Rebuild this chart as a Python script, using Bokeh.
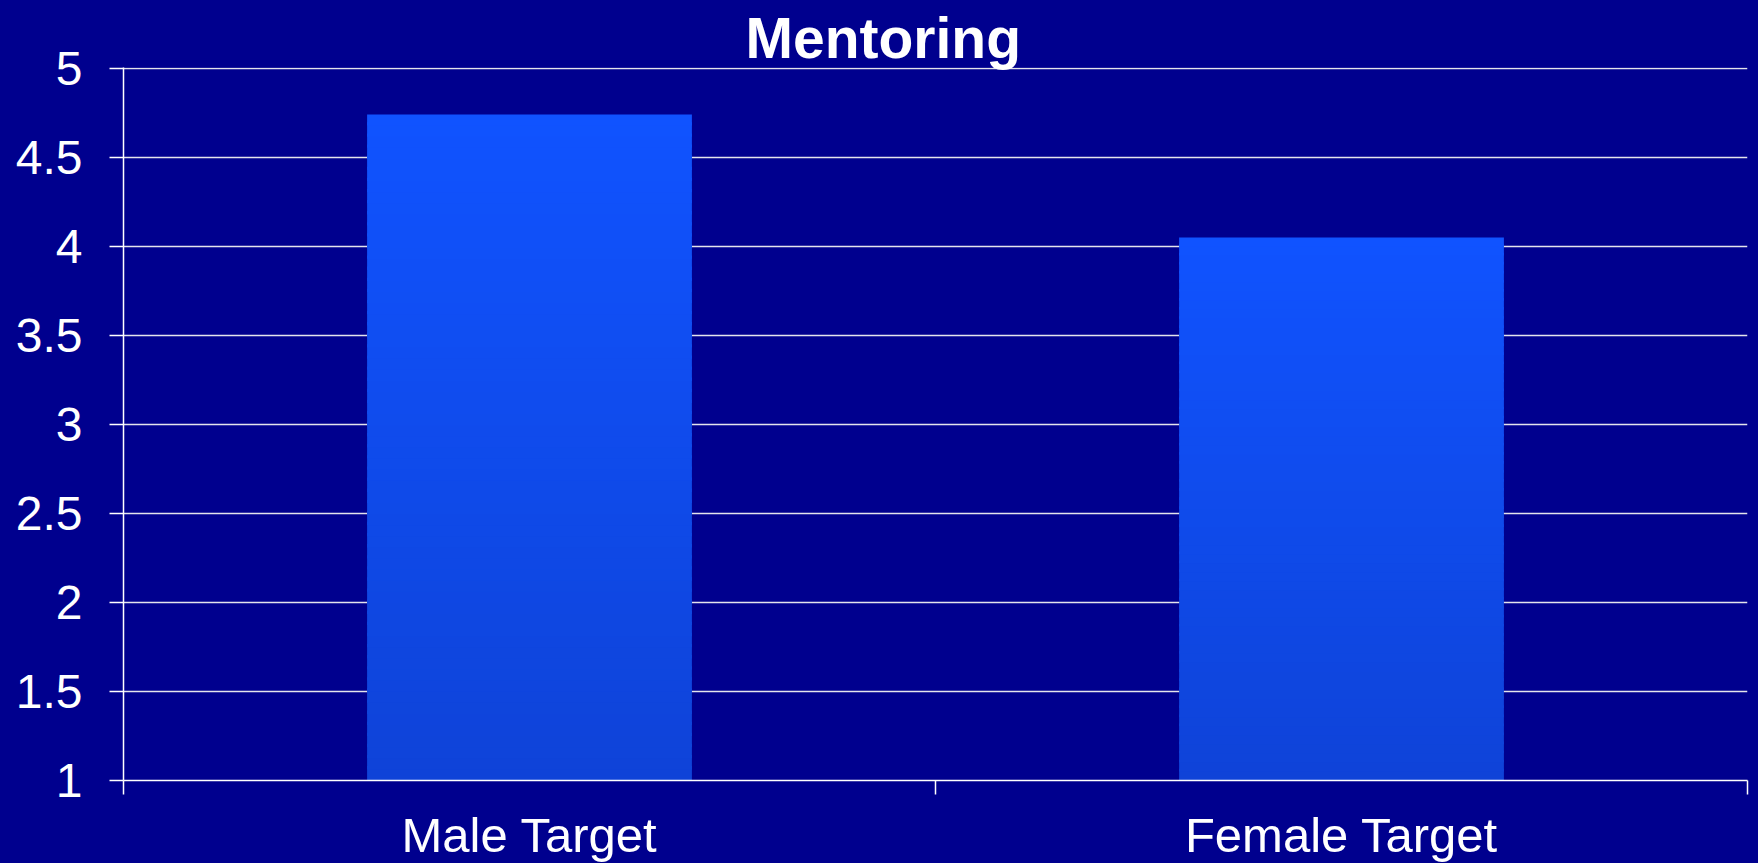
from bokeh.plotting import figure
from bokeh.models import FixedTicker, Range1d, ColumnDataSource
from bokeh.embed import file_html
from bokeh.resources import INLINE

# ---- data ----
categories = ["Male Target", "Female Target"]
values = [4.74, 4.05]
y_ticks = [1, 1.5, 2, 2.5, 3, 3.5, 4, 4.5, 5]
title_text = "Mentoring"

BG = "#00008E"
TOP = (0x10, 0x53, 0xFF)
BOT = (0x0F, 0x43, 0xD8)
FONT = "Liberation Sans"

p = figure(frame_width=1624, frame_height=713,
           x_range=Range1d(0, len(categories)), y_range=Range1d(1, 5.004),
           output_backend="svg", toolbar_location=None,
           background_fill_color=BG, border_fill_color=BG,
           outline_line_color=None,
           min_border_left=123, min_border_right=11,
           min_border_top=67, min_border_bottom=83)

p.title.text = title_text
p.title.align = "left"
p.title.offset = 622
p.title.text_color = "white"
p.title.text_font = FONT
p.title.text_font_size = "57px"
p.title.text_font_style = "bold"
p.title.standoff = -4

# gradient bars (strips computed from each bar's value)
N = 60
xs, bottoms, tops, colors = [], [], [], []
for i, v in enumerate(values):
    base = 1.0
    for k in range(N):
        b = base + (v - base) * k / N
        t = base + (v - base) * (k + 1) / N
        f = (k + 0.5) / N
        c = tuple(int(round(BOT[j] + (TOP[j] - BOT[j]) * f)) for j in range(3))
        xs.append(i + 0.5)
        bottoms.append(b)
        tops.append(t + (v - base) / N * 0.3 if k < N - 1 else t)
        colors.append("#%02X%02X%02X" % c)
src = ColumnDataSource(dict(x=xs, bottom=bottoms, top=tops, color=colors))
p.vbar(x="x", bottom="bottom", top="top", width=0.4, fill_color="color",
       line_color=None, source=src)

# y axis
ya = p.yaxis[0]
ya.ticker = FixedTicker(ticks=y_ticks)
ya.major_label_overrides = {t: ("%g" % t) for t in y_ticks}
ya.axis_line_color = "white"
ya.axis_line_width = 1.5
ya.major_tick_line_color = "white"
ya.major_tick_line_width = 1.5
ya.major_tick_out = 14
ya.major_tick_in = 0
ya.minor_tick_line_color = None
ya.major_label_text_color = "white"
ya.major_label_text_font = FONT
ya.major_label_text_font_size = "48px"
ya.major_label_standoff = 27

# x axis: labels at centers, ticks at category boundaries (minor ticks)
xa = p.xaxis[0]
centers = [i + 0.5 for i in range(len(categories))]
bounds = [float(i) for i in range(len(categories) + 1)]
xa.ticker = FixedTicker(ticks=centers, minor_ticks=bounds)
xa.major_label_overrides = {c: n for c, n in zip(centers, categories)}
xa.axis_line_color = "white"
xa.axis_line_width = 1.5
xa.major_tick_line_color = None
xa.major_tick_out = 0
xa.major_tick_in = 0
xa.minor_tick_line_color = "white"
xa.minor_tick_line_width = 1.5
xa.minor_tick_out = 14
xa.minor_tick_in = 0
xa.major_label_text_color = "white"
xa.major_label_text_font = FONT
xa.major_label_text_font_size = "49px"
xa.major_label_standoff = 13

p.xgrid.grid_line_color = None
p.ygrid.ticker = FixedTicker(ticks=y_ticks)
p.ygrid.grid_line_color = "#E4E4EC"
p.ygrid.grid_line_width = 1.5

html = file_html(p, INLINE)
html = html.replace("<head>", "<head><style>body{background:%s;}</style>" % BG, 1)
open("out.html", "w").write(html)
